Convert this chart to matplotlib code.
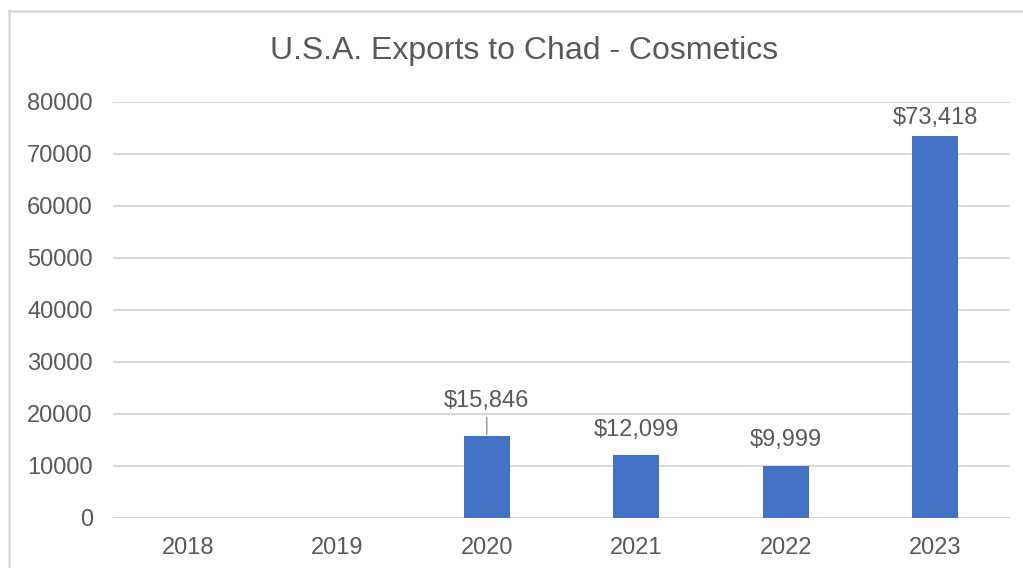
import matplotlib
matplotlib.use("Agg")
import matplotlib.pyplot as plt
from matplotlib.lines import Line2D

years = ["2018", "2019", "2020", "2021", "2022", "2023"]
exports = [0, 0, 15846, 12099, 9999, 73418]
y_ticks = [0, 10000, 20000, 30000, 40000, 50000, 60000, 70000, 80000]

W, H = 1023, 568
plt.rcParams["font.family"] = ["Liberation Sans", "DejaVu Sans"]
text_color = "#595959"
bar_color = "#4472C4"
grid_color = "#D9D9D9"

# vertical distance (points) between bar top and its value label
label_offset = {"2020": 25, "2021": 18, "2022": 18.5, "2023": 13}

fig = plt.figure(figsize=(W / 100, H / 100), dpi=100)
ax = fig.add_axes([113 / W, 1 - 518 / H, (1010 - 113) / W, (518 - 102) / H])

x = list(range(len(years)))
ax.bar(x, exports, width=0.31, color=bar_color, zorder=3)

ax.set_xlim(-0.5, len(years) - 0.5)
ax.set_ylim(0, 80000)
ax.set_yticks(y_ticks)
ax.set_yticklabels([str(v) for v in y_ticks])
ax.set_xticks(x)
ax.set_xticklabels(years)
ax.tick_params(axis="both", length=0, labelsize=17, colors=text_color)
ax.tick_params(axis="y", pad=14.5)
ax.tick_params(axis="x", pad=13.5)
ax.grid(axis="y", color=grid_color, linewidth=1.5, zorder=0)
for s in ax.spines.values():
    s.set_visible(False)

# value labels above the non-zero bars
for xi, v in zip(x, exports):
    if v <= 0:
        continue
    label = f"${v:,}"
    off = label_offset.get(years[xi], 18)
    if years[xi] == "2020":
        ax.annotate(label, xy=(xi, v), xytext=(0, off), textcoords="offset points",
                    ha="center", va="center", fontsize=17, color=text_color,
                    arrowprops=dict(arrowstyle="-", color="#A6A6A6", lw=1.2,
                                    shrinkA=2, shrinkB=1))
    else:
        ax.annotate(label, xy=(xi, v), xytext=(0, off), textcoords="offset points",
                    ha="center", va="center", fontsize=17, color=text_color)

fig.text(524.5 / W, 1 - 51 / H, "U.S.A. Exports to Chad - Cosmetics",
         ha="center", va="center", fontsize=23, color=text_color)

# chart frame
fig.add_artist(Line2D([9 / W, 9 / W], [0, 1 - 11 / H], transform=fig.transFigure,
                      color=grid_color, lw=1.8))
fig.add_artist(Line2D([9 / W, 1], [1 - 11 / H, 1 - 11 / H], transform=fig.transFigure,
                      color=grid_color, lw=1.8))

fig.savefig("out.png", dpi=100)
